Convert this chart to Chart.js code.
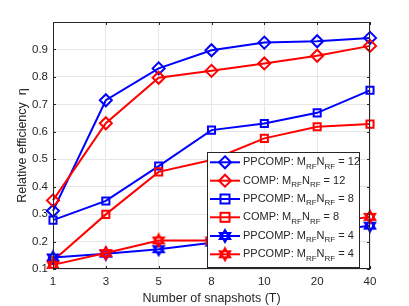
<!DOCTYPE html>
<html><head><meta charset="utf-8">
<script src="https://cdn.jsdelivr.net/npm/chart.js@4.4.1/dist/chart.umd.min.js"></script>
<style>html,body{margin:0;padding:0;background:#fff;}#wrap{width:409px;height:306px;}</style>
</head><body><div id="wrap"><canvas id="c" width="409" height="306"></canvas></div>
<script>
const categories = ['1','3','5','8','10','20','40'];
const ppcomp12 = [0.312, 0.715, 0.831, 0.897, 0.925, 0.930, 0.942];
const comp12   = [0.350, 0.631, 0.797, 0.822, 0.849, 0.877, 0.913];
const ppcomp8  = [0.278, 0.348, 0.475, 0.606, 0.630, 0.669, 0.751];
const comp8    = [0.130, 0.299, 0.454, 0.497, 0.576, 0.618, 0.628];
const ppcomp4  = [0.142, 0.156, 0.172, 0.196, 0.215, 0.235, 0.258];
const comp4    = [0.115, 0.158, 0.204, 0.204, 0.238, 0.262, 0.290];
const yTicks = [0.1,0.2,0.3,0.4,0.5,0.6,0.7,0.8,0.9];
const legendNames = ['PPCOMP: ','COMP: ','PPCOMP: ','COMP: ','PPCOMP: ','PPCOMP: '];
const legendValues = ['12','12','8','8','4','4'];

const BLUE = '#0000ff', RED = '#ff0000';
function hexagram(color){
  const c = document.createElement('canvas'); c.width = 16; c.height = 16;
  const g = c.getContext('2d'); g.strokeStyle = color; g.lineWidth = 2; g.lineJoin='miter';
  const cx=8, cy=8, r=6;
  for (const rot of [-Math.PI/2, Math.PI/2]) {
    g.beginPath();
    for (let k=0;k<3;k++){ const a=rot+k*2*Math.PI/3; const x=cx+r*Math.cos(a), y=cy+r*Math.sin(a); k?g.lineTo(x,y):g.moveTo(x,y); }
    g.closePath(); g.stroke();
  }
  return c;
}
const hexB = hexagram(BLUE), hexR = hexagram(RED);
function ds(data, color, style, radius, idx){
  return {data, borderColor: color, backgroundColor:'rgba(0,0,0,0)', borderWidth:2,
    pointStyle: style, pointRadius: radius, pointBorderWidth: 2, pointBorderColor: color,
    pointBackgroundColor:'rgba(0,0,0,0)', tension:0, order: 6-idx};
}
const sets = [
  ds(ppcomp12, BLUE, 'rectRot', 6, 0),
  ds(comp12, RED, 'rectRot', 6, 1),
  ds(ppcomp8, BLUE, 'rect', 5, 2),
  ds(comp8, RED, 'rect', 5, 3),
  ds(ppcomp4, BLUE, hexB, 6, 4),
  ds(comp4, RED, hexR, 6, 5),
];
const FONT = '"Liberation Sans", Arial, Helvetica, sans-serif';
const TXT = '#262626';

function drawMarker(ctx, style, color, x, y){
  ctx.save(); ctx.strokeStyle=color; ctx.lineWidth=2;
  if (style==='rectRot'){ const r=6; ctx.beginPath(); ctx.moveTo(x,y-r); ctx.lineTo(x+r,y); ctx.lineTo(x,y+r); ctx.lineTo(x-r,y); ctx.closePath(); ctx.stroke(); }
  else if (style==='rect'){ const r=4.5; ctx.strokeRect(x-r,y-r,2*r,2*r); }
  else { ctx.drawImage(style, x-8, y-8); }
  ctx.restore();
}

const boxPlugin = {
  id:'box',
  afterDraw(chart){
    const {ctx, chartArea:a, scales} = chart;
    ctx.save();
    ctx.strokeStyle = '#262626'; ctx.lineWidth = 1;
    ctx.strokeRect(a.left+0.5, a.top+0.5, a.right-a.left-1, a.bottom-a.top-1);
    ctx.beginPath();
    scales.x.ticks.forEach((t,i)=>{ const x=Math.round(scales.x.getPixelForTick(i))+0.5;
      ctx.moveTo(x,a.bottom); ctx.lineTo(x,a.bottom-3); ctx.moveTo(x,a.top); ctx.lineTo(x,a.top+3); });
    scales.y.ticks.forEach((t,i)=>{ const y=Math.round(scales.y.getPixelForTick(i))+0.5;
      ctx.moveTo(a.left,y); ctx.lineTo(a.left+3,y); ctx.moveTo(a.right,y); ctx.lineTo(a.right-3,y); });
    ctx.stroke();
    // legend
    const L=207, T=152, W=152, H=115;
    ctx.fillStyle='#fff'; ctx.fillRect(L,T,W,H);
    ctx.strokeStyle='#262626'; ctx.lineWidth=1; ctx.strokeRect(L+0.5,T+0.5,W,H);
    const rowY = [162.3,180.7,199,217.3,236,254.3];
    sets.forEach((d,i)=>{
      const y=rowY[i];
      ctx.strokeStyle=d.borderColor; ctx.lineWidth=2;
      ctx.beginPath(); ctx.moveTo(210,y); ctx.lineTo(240,y); ctx.stroke();
      drawMarker(ctx, d.pointStyle, d.borderColor, 225, y);
      ctx.fillStyle=TXT; ctx.textBaseline='middle'; ctx.textAlign='left';
      let x=243;
      const big='11px '+FONT, small='8px '+FONT;
      const parts=[[legendNames[i]+'M',big,0],['RF',small,4],['N',big,0],['RF',small,4],[' = '+legendValues[i],big,0]];
      parts.forEach(([s,f,dy])=>{ ctx.font=f; ctx.fillText(s,x,y+dy); x+=ctx.measureText(s).width; });
    });
    ctx.restore();
  }
};

new Chart(document.getElementById('c'), {
  type:'line',
  data:{labels: categories, datasets: sets},
  options:{
    responsive:false, animation:false, devicePixelRatio:1,
    layout:{padding:{top:22,right:39,left:0,bottom:0}},
    plugins:{legend:{display:false}, tooltip:{enabled:false}},
    scales:{
      x:{
        type:'category', offset:false,
        grid:{color:'#e6e6e6', drawTicks:false},
        border:{display:false},
        ticks:{padding:6, color:TXT, font:{family:FONT,size:11.5}, maxRotation:0, autoSkip:false},
        title:{display:true, text:'Number of snapshots (T)', color:TXT, font:{family:FONT,size:12.5}, padding:{top:0,bottom:0}},
        afterFit(s){ s.height=37; }
      },
      y:{
        min:0.1, max:1.0,
        afterBuildTicks(s){ s.ticks = yTicks.concat([1.0]).map(v=>({value:v})); },
        grid:{color:'#e6e6e6', drawTicks:false},
        border:{display:false},
        ticks:{padding:5, color:TXT, font:{family:FONT,size:11.5},
          callback:(v)=> Math.abs(v-1)<1e-9 ? '' : Number(v).toFixed(1)},
        title:{display:true, text:'Relative efficiency  η', color:TXT, font:{family:FONT,size:12.5}, padding:{top:15,bottom:0}},
        afterFit(s){ s.width=53; }
      }
    }
  },
  plugins:[boxPlugin]
});
</script></body></html>
